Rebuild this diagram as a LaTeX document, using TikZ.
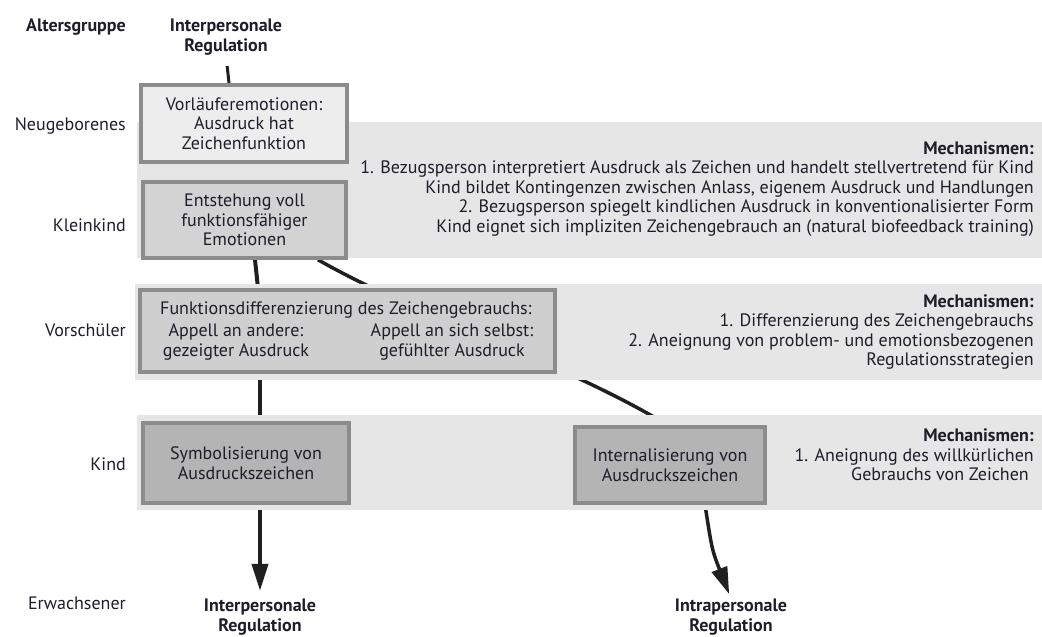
\documentclass[tikz,border=0pt]{standalone}
\usepackage{fontspec}
\setmainfont{PT Sans}
\usetikzlibrary{arrows.meta}
\pgfdeclarelayer{lines}
\pgfdeclarelayer{bands}
\pgfsetlayers{lines,bands,main}
\definecolor{ink}{HTML}{1E1E2A}
\definecolor{bandc}{HTML}{E6E6E6}
\definecolor{boxline}{HTML}{8C8C8C}
\definecolor{fillA}{HTML}{EDEDED}
\definecolor{fillB}{HTML}{D3D3D3}
\definecolor{fillC}{HTML}{CFCFCF}
\definecolor{fillD}{HTML}{B4B4B4}
\definecolor{linec}{HTML}{202020}
\newcommand\fsz{\fontsize{18}{19.5}\selectfont}
\begin{document}
\begin{tikzpicture}[x=1pt,y=-1pt,
  every node/.style={text=ink, font=\fsz, inner sep=0pt},
  lbl/.style={anchor=east},
  hdr/.style={font=\fsz\bfseries, align=center},
  box/.style={draw=boxline, line width=3.5pt, align=center},
  mech/.style={anchor=east, align=right},
  conn/.style={draw=linec, line width=4pt},
  thinconn/.style={draw=linec, line width=3pt},
  curve/.style={draw=linec, line width=3.5pt},
  tip/.style={-{Triangle[length=27pt,width=16pt]}}]
\useasboundingbox (0,0) rectangle (1042,637);

% left column
\node[lbl, font=\fsz\bfseries] (alt) at (126,27) {Altersgruppe};
\node[lbl] (neu) at (126,126) {Neugeborenes};
\node[lbl] (klk) at (126,225) {Kleinkind};
\node[lbl] (vor) at (126,330) {Vorschüler};
\node[lbl] (kind) at (126,464) {Kind};
\node[lbl] (erw) at (126,603) {Erwachsener};

% top / bottom labels
\node[hdr] (topreg) at (226,37) {Interpersonale\\Regulation};
\node[hdr] (botreg) at (260,617) {Interpersonale\\Regulation};
\node[hdr] (intra) at (731,617) {Intrapersonale\\Regulation};

% boxes
\node[box, fill=fillA, minimum width=206, minimum height=77] (v) at (244,123.5)
  {Vorläuferemotionen:\\Ausdruck hat\\Zeichenfunktion};
\node[box, fill=fillB, minimum width=203, minimum height=76] (e) at (244.5,220)
  {Entstehung voll\\funktionsfähiger\\Emotionen};
\node[box, fill=fillC, minimum width=415, minimum height=82] (f) at (347.5,331) {};
\node[anchor=west] (f1) at (160,310) {Funktionsdifferenzierung des Zeichengebrauchs:};
\node[align=center] (f2) at (236,342) {Appell an andere:\\gezeigter Ausdruck};
\node[align=center] (f3) at (452,342) {Appell an sich selbst:\\gefühlter Ausdruck};
\node[box, fill=fillD, minimum width=206, minimum height=80] (s) at (246,463)
  {Symbolisierung von\\Ausdruckszeichen};
\node[box, fill=fillD, minimum width=190, minimum height=76] (i) at (670,465)
  {Internalisierung von\\Ausdruckszeichen};

% mechanism texts
\node[mech] (m1) at (1034,189) {\textbf{Mechanismen:}\\
1. Bezugsperson interpretiert Ausdruck als Zeichen und handelt stellvertretend für Kind\\
Kind bildet Kontingenzen zwischen Anlass, eigenem Ausdruck und Handlungen\\
2. Bezugsperson spiegelt kindlichen Ausdruck in konventionalisierter Form\\
Kind eignet sich impliziten Zeichengebrauch an (natural biofeedback training)};
\node[mech] (m2) at (1034,332) {\textbf{Mechanismen:}\\
1. Differenzierung des Zeichengebrauchs\\
2. Aneignung von problem- und emotionsbezogenen\\
Regulationsstrategien};
\node[mech] (m3) at (1034,455) {\textbf{Mechanismen:}\\
1. Aneignung des willkürlichen\\
Gebrauchs von Zeichen\hspace*{5pt}};

% bands
\begin{pgfonlayer}{bands}
\fill[bandc] (137,122) rectangle (1042,258);
\fill[bandc] (135,284) rectangle (1042,380);
\fill[bandc] (137,415) rectangle (1042,510);
\end{pgfonlayer}

% connectors
\begin{pgfonlayer}{lines}
\draw[thinconn, shorten <=11pt] (topreg.south) -- ([xshift=-15]v.north);
\draw[conn] ([xshift=-15]v.south) -- ([xshift=10]e.north);
\draw[conn] ([xshift=10.5]e.south) -- ([xshift=-89.5]f.north);
\draw[conn] ([xshift=-87.5]f.south) -- ([xshift=14]s.north);
\draw[conn, tip, shorten >=8pt] ([xshift=14]s.south) -- (botreg.north);
\draw[curve] ([xshift=73.5]e.south) .. controls (420,318) and (560,360) .. ([xshift=-2]i.north);
\draw[curve, tip, shorten >=5pt] ([xshift=35]i.south) .. controls (712,550) .. (intra.north);
\end{pgfonlayer}
\end{tikzpicture}
\end{document}
